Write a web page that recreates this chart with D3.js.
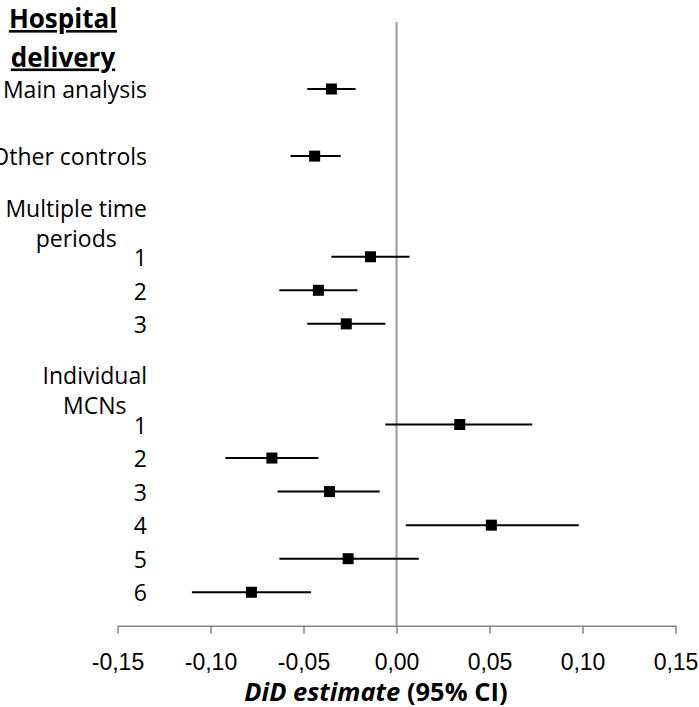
<!DOCTYPE html>
<html>
<head>
<meta charset="utf-8">
<script src="https://cdn.jsdelivr.net/npm/d3@7"></script>
<style>
  html, body { margin: 0; padding: 0; background: #fff; }
  svg { display: block; font-family: "Open Sans", Lato, sans-serif; }
</style>
</head>
<body>
<svg id="chart" width="699" height="707"></svg>
<script>
// Row labels, top to bottom; empty entries are spacer rows, "\n" wraps a group heading.
const rowLabels = ["Main analysis", "", "Other controls", "", "Multiple time\nperiods", "1", "2", "3",
                   "", "Individual\nMCNs", "1", "2", "3", "4", "5", "6"];
// Difference-in-differences point estimates and 95% confidence bounds (null = no estimate).
const estimate = [-0.035, null, -0.044, null, null, -0.014, -0.042, -0.027,
                  null, null, 0.034, -0.067, -0.036, 0.051, -0.026, -0.078];
const ciLower  = [-0.048, null, -0.057, null, null, -0.035, -0.063, -0.048,
                  null, null, -0.006, -0.092, -0.064, 0.005, -0.063, -0.110];
const ciUpper  = [-0.022, null, -0.030, null, null, 0.007, -0.021, -0.006,
                  null, null, 0.073, -0.042, -0.009, 0.098, 0.012, -0.046];
const xTicks = [-0.15, -0.10, -0.05, 0.00, 0.05, 0.10, 0.15];
const titleLines = ["Hospital", "delivery"];

const svg = d3.select("#chart");

const x = d3.scaleLinear().domain([-0.15, 0.15]).range([117.5, 675.5]);
// one unit per row; two empty slots above the first row, axis one slot below the last
const y = d3.scaleLinear().domain([0, rowLabels.length]).range([89, 625.8]);
const yTop = y(-2);
const yAxis = y(rowLabels.length);
const labelRight = 147;
const fontSize = 23;

const fmt = v => d3.format(".2f")(v).replace(".", ",").replace("−", "-");

// zero reference line
svg.append("line")
  .attr("x1", x(0)).attr("x2", x(0))
  .attr("y1", yTop).attr("y2", yAxis)
  .attr("stroke", "#9a9a9a").attr("stroke-width", 2);

// x axis
const axis = d3.axisBottom(x).tickValues(xTicks).tickSize(8).tickSizeOuter(0).tickFormat(fmt);
const gx = svg.append("g").attr("transform", `translate(0,${yAxis})`).call(axis);
gx.select(".domain").attr("stroke", "#868686").attr("stroke-width", 1.5);
gx.selectAll(".tick line").attr("stroke", "#868686").attr("stroke-width", 1.5);
gx.selectAll(".tick text")
  .attr("fill", "#000").attr("font-size", fontSize).attr("font-family", null)
  .attr("y", 0).attr("dy", 0).attr("transform", "translate(0,44.5)");

// axis title
const xt = svg.append("text")
  .attr("x", 376).attr("y", 701)
  .attr("text-anchor", "middle").attr("font-size", 25.5).attr("font-weight", "bold");
xt.append("tspan").attr("font-style", "italic").text("DiD estimate");
xt.append("tspan").text(" (95% CI)");

// chart heading
svg.append("g").selectAll("text").data(titleLines).join("text")
  .attr("x", 63).attr("y", (d, i) => 28 + i * 38.5)
  .attr("text-anchor", "middle")
  .attr("font-size", 26).attr("font-weight", "bold")
  .style("text-decoration", "underline")
  .text(d => d);

// row labels: single lines right-aligned; wrapped headings centred inside a right-aligned block
const rows = rowLabels.map((label, i) => ({ label, i, est: estimate[i], lo: ciLower[i], hi: ciUpper[i] }));
const lg = svg.append("g").attr("font-size", fontSize);
rows.filter(r => r.label).forEach(r => {
  const lines = r.label.split("\n");
  if (lines.length === 1) {
    lg.append("text").attr("x", labelRight).attr("y", y(r.i)).attr("dy", "0.4em")
      .attr("text-anchor", "end").text(lines[0]);
  } else {
    const texts = lines.map((ln, k) => lg.append("text")
      .attr("y", y(r.i) + (k - (lines.length - 1) / 2) * 30).attr("dy", "0.37em")
      .attr("text-anchor", "middle").text(ln));
    const w = d3.max(texts, t => t.node().getComputedTextLength());
    texts.forEach(t => t.attr("x", labelRight - w / 2));
  }
});

// confidence intervals and point estimates
const est = rows.filter(r => r.est != null);
svg.append("g").selectAll("line").data(est).join("line")
  .attr("x1", d => x(d.lo)).attr("x2", d => x(d.hi))
  .attr("y1", d => y(d.i)).attr("y2", d => y(d.i))
  .attr("stroke", "#000").attr("stroke-width", 2);
const s = 11;
svg.append("g").selectAll("rect").data(est).join("rect")
  .attr("x", d => x(d.est) - s / 2).attr("y", d => y(d.i) - s / 2)
  .attr("width", s).attr("height", s).attr("fill", "#000");
</script>
</body>
</html>
